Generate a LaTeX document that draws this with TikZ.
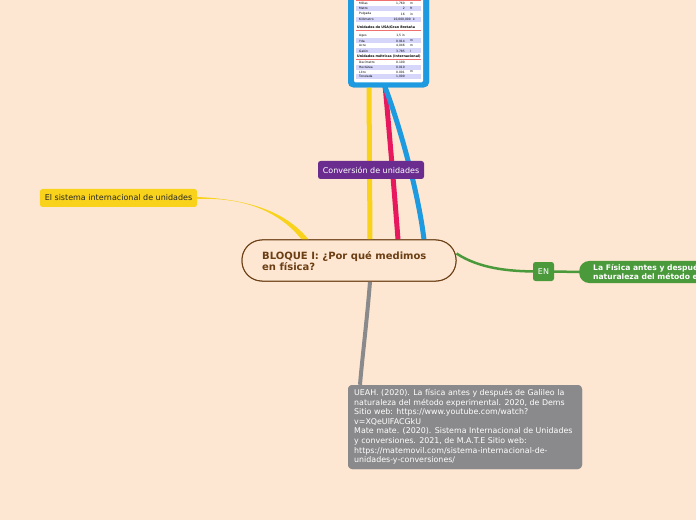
\documentclass[tikz,border=0pt]{standalone}
\usepackage{fontspec}
\setmainfont{DejaVu Sans}
\definecolor{bgc}{HTML}{FDE7D2}
\definecolor{frameblue}{HTML}{1E9AE0}
\definecolor{yel}{HTML}{F9D31B}
\definecolor{pinkc}{HTML}{E8185E}
\definecolor{grayc}{HTML}{8A8A8C}
\definecolor{greenc}{HTML}{4A9A3C}
\definecolor{purp}{HTML}{6A2C8F}
\definecolor{brownc}{HTML}{6B3E14}
\definecolor{lav}{HTML}{D6D6FA}
\definecolor{redl}{HTML}{F07070}
\tikzset{
  tagbox/.style={rounded corners=2.5bp, inner sep=0pt, font=\fontsize{8bp}{9bp}\selectfont},
  central/.style={draw=brownc, line width=1bp, fill=bgc, rounded corners=20bp, minimum width=214bp, minimum height=41bp, inner sep=0pt},
  centraltext/.style={inner sep=0pt, text=brownc, align=left, font=\fontsize{10bp}{11.8bp}\selectfont\bfseries},
  refbox/.style={fill=grayc, rounded corners=4bp, text=white, minimum width=234bp, minimum height=84bp, inner sep=0pt},
  reftext/.style={inner sep=0pt, text=white, align=left, font=\fontsize{7.9bp}{9.6bp}\selectfont},
  framebox/.style={fill=frameblue, rounded corners=5bp, minimum width=81bp, minimum height=160bp, inner sep=0pt},
  conn/.style={line width=5bp},
  tiny/.style={font=\fontsize{3bp}{3.5bp}\selectfont, inner sep=0pt},
  tinyb/.style={font=\fontsize{3.3bp}{3.8bp}\selectfont\bfseries, inner sep=0pt},
}
\begin{document}
\begin{tikzpicture}[x=1bp,y=-1bp]
\useasboundingbox (0,0) rectangle (696,520);
\clip (0,0) rectangle (696,520);
\fill[bgc] (0,0) rectangle (696,520);

% nodes (placement)
\node[central] (c) at (349,260.5) {};
\node[tagbox, fill=yel, text=black!85, minimum width=157bp, minimum height=18bp] (sis) at (118.5,198) {El sistema internacional de unidades};
\node[tagbox, fill=greenc, text=white, minimum width=21bp, minimum height=19bp] (en) at (543.5,271.5) {EN};
\node[fill=greenc, rounded corners=10bp, minimum width=170bp, minimum height=22bp, inner sep=0pt, anchor=west] (fis) at (579,272) {};
\node[anchor=west, inner sep=0pt, text=white, align=left, font=\fontsize{7.6bp}{9bp}\selectfont\bfseries] (fist) at (593,272.5) {La Física antes y después de Galileo la\\naturaleza del método experimental};
\node[refbox] (ref) at (465,427) {};
\node[framebox, anchor=south] (tbl) at (388.5,87.5) {};

% connectors
\draw[conn, yel] ([xshift=-19.5bp]tbl.south) -- ([xshift=21bp]c.north);
\draw[conn, pinkc] ([xshift=-3.5bp,yshift=3bp]tbl.south) .. controls (390,140) and (395,200) .. ([xshift=49bp]c.north);
\draw[conn, frameblue] ([xshift=-4.5bp,yshift=3bp]tbl.south) .. controls (398,120) and (418,190) .. ([xshift=75bp]c.north);
\fill[yel] ([yshift=-1bp]sis.east) .. controls (245,197) and (280,212) .. (302,240) -- (309,240) .. controls (285,210) and (245,199) .. ([yshift=1bp]sis.east) -- cycle;
\draw[line width=4bp, grayc] ([xshift=21bp]c.south) .. controls (367,320) and (362,360) .. ([xshift=-105bp]ref.north);
\draw[line width=2.5bp, greenc] ([yshift=7bp]c.east) .. controls (480,269) and (510,271) .. (en.west);
\draw[line width=2.5bp, greenc] (en.east) -- (fis.west);

% nodes on top of connectors
\node[central] (c2) at (c) {};
\node[centraltext, anchor=west] (ct) at (262,261) {BLOQUE I: ¿Por qué medimos\\en física?};
\node[refbox] (ref2) at (ref) {};
\node[reftext, anchor=north west] (reft) at (354,389) {UEAH. (2020). La física antes y después de Galileo la\\naturaleza del método experimental. 2020, de Dems\\Sitio web: https://www.youtube.com/watch?\\v=XQeUlFACGkU\\Mate mate. (2020). Sistema Internacional de Unidades\\y conversiones. 2021, de M.A.T.E Sitio web:\\https://matemovil.com/sistema-internacional-de-\\unidades-y-conversiones/};
\node[tagbox, fill=purp, text=white, minimum width=106bp, minimum height=18bp] (conv) at (371,170) {Conversión de unidades};
\node[framebox] (tbl2) at (tbl) {};

% table inside
\fill[white, rounded corners=2bp] (354,-60) rectangle (423,82.5);
% section 1
\draw[redl, line width=0.6bp] (356,0.5) -- (421,0.5);
\fill[lav] (356,6.5) rectangle (421,11);
\fill[lav] (356,17) rectangle (421,21.7);
\node[tiny, anchor=west] (a1) at (359,3.3) {Millas};
\node[tiny, anchor=east] (a1n) at (405,3.3) {1,760};
\node[tiny, anchor=west] (a1u) at (410,3.3) {m};
\node[tiny, anchor=west] (a2) at (359,8.7) {Metro};
\node[tiny, anchor=east] (a2n) at (405,8.7) {2};
\node[tiny, anchor=west] (a2u) at (410,8.7) {ft};
\node[tiny, anchor=west] (a3) at (359,14) {Pulgada};
\node[tiny, anchor=east] (a3n) at (405,14) {16};
\node[tiny, anchor=west] (a3u) at (410,14) {in};
\node[tiny, anchor=west] (a4) at (359,19.3) {Kilómetro};
\node[tiny, anchor=east] (a4n) at (411,19.3) {10,000,000};
\node[tiny, anchor=west] (a4u) at (413,19.3) {k};
% section 2
\node[tinyb, anchor=west] (h2) at (357,27.5) {Unidades de USA/Gran Bretaña};
\draw[redl, line width=0.6bp] (356,30.5) -- (421,30.5);
\fill[lav] (356,38.5) rectangle (421,43.3);
\fill[lav] (356,48.5) rectangle (421,53.3);
\node[tiny, anchor=west] (b1) at (359,35.7) {Ages};
\node[tiny, anchor=east] (b1n) at (405,35.7) {1,5 in};
\node[tiny, anchor=west] (b2) at (359,41) {Yda};
\node[tiny, anchor=east] (b2n) at (405,41) {0.914};
\node[tiny, anchor=west] (b2u) at (410,41) {m};
\node[tiny, anchor=west] (b3) at (359,45.7) {Acre};
\node[tiny, anchor=east] (b3n) at (405,45.7) {4,046};
\node[tiny, anchor=west] (b3u) at (410,45.7) {m};
\node[tiny, anchor=west] (b4) at (359,51) {Galón};
\node[tiny, anchor=east] (b4n) at (405,51) {3.785};
\node[tiny, anchor=west] (b4u) at (410,51) {l};
% section 3
\node[tinyb, anchor=west] (h3) at (357,56.5) {Unidades métricas (Internacional)};
\draw[redl, line width=0.6bp] (356,59.5) -- (421,59.5);
\fill[lav] (356,65) rectangle (421,69.7);
\fill[lav] (356,74.4) rectangle (421,79);
\node[tiny, anchor=west] (m1) at (359,62.7) {Decímetro};
\node[tiny, anchor=east] (m1n) at (405,62.7) {0.100};
\node[tiny, anchor=west] (m2) at (359,67.3) {Hectárea};
\node[tiny, anchor=east] (m2n) at (405,67.3) {0.010};
\node[tiny, anchor=west] (m3) at (359,72) {Litro};
\node[tiny, anchor=east] (m3n) at (405,72) {0.001};
\node[tiny, anchor=west] (m3u) at (410,72) {m};
\node[tiny, anchor=west] (m4) at (359,76.7) {Tonelada};
\node[tiny, anchor=east] (m4n) at (405,76.7) {1,000};
\end{tikzpicture}
\end{document}
